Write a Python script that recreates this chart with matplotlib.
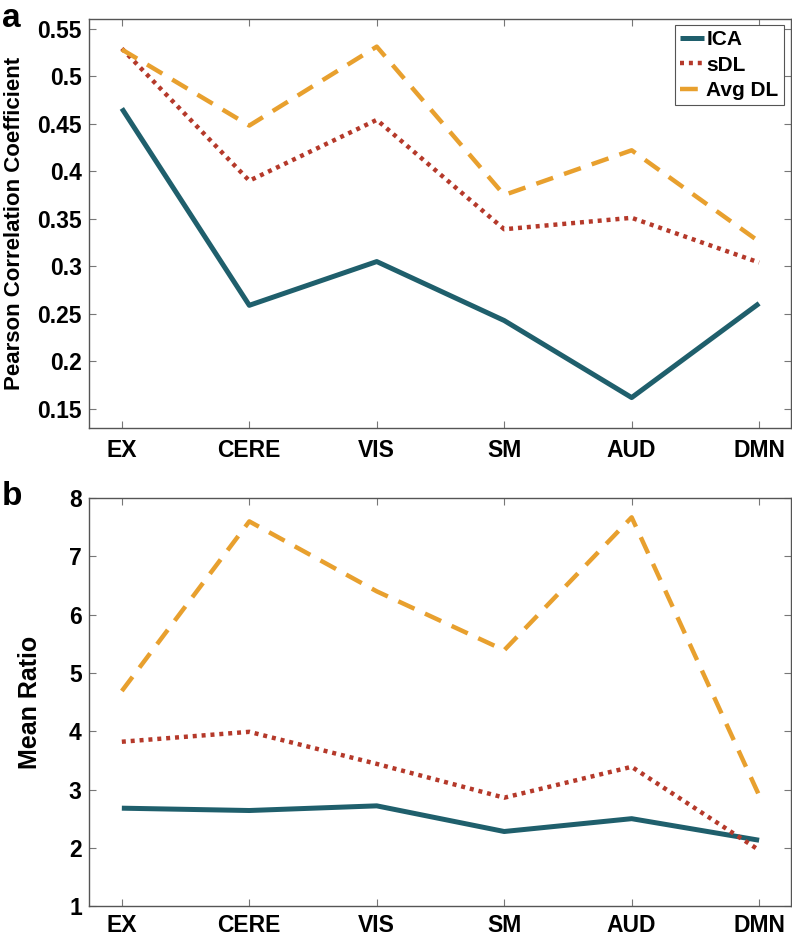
import matplotlib
matplotlib.use("Agg")
import matplotlib.pyplot as plt

categories = ["EX", "CERE", "VIS", "SM", "AUD", "DMN"]
series_names = ["ICA", "sDL", "Avg DL"]
pearson_ica = [0.466, 0.259, 0.305, 0.243, 0.162, 0.261]
pearson_sdl = [0.529, 0.390, 0.454, 0.339, 0.351, 0.304]
pearson_avgdl = [0.528, 0.448, 0.531, 0.375, 0.422, 0.326]
ratio_ica = [2.68, 2.64, 2.72, 2.28, 2.50, 2.13]
ratio_sdl = [3.82, 3.99, 3.44, 2.86, 3.39, 1.96]
ratio_avgdl = [4.69, 7.60, 6.40, 5.39, 7.67, 2.90]
yticks_a = [0.15, 0.2, 0.25, 0.3, 0.35, 0.4, 0.45, 0.5, 0.55]
yticklabels_a = ["0.15", "0.2", "0.25", "0.3", "0.35", "0.4", "0.45", "0.5", "0.55"]
yticks_b = [1, 2, 3, 4, 5, 6, 7, 8]

plt.rcParams['font.family'] = ['Liberation Sans', 'DejaVu Sans']
plt.rcParams['font.weight'] = 'bold'

TICK_FS = 16.5
LABEL_FS = 18

colors = ["#1f5f6c", "#b5392a", "#e8a02e"]
styles = [
    dict(linestyle='-', linewidth=3.6),
    dict(linestyle=(0, (0.9, 1.1)), linewidth=3.2),
    dict(linestyle=(0, (4.0, 2.6)), linewidth=3.2),
]

fig = plt.figure(figsize=(7.92, 9.38), dpi=100)
ax_a = fig.add_axes([0.112, 0.5437, 0.8867, 0.436])
ax_b = fig.add_axes([0.112, 0.034, 0.8867, 0.435])

x = list(range(1, len(categories) + 1))

def style_axes(ax, xpad):
    for s in ax.spines.values():
        s.set_color("#555555")
        s.set_linewidth(1.0)
    ax.tick_params(direction='in', top=True, right=True, length=5, width=0.8,
                   color="#777777", labelsize=TICK_FS, pad=5)
    ax.set_xticks(x)
    ax.set_xticklabels(categories, fontweight='bold', fontsize=TICK_FS)
    ax.tick_params(axis='x', pad=xpad)
    ax.set_xlim(0.74, 6.25)

for vals, c, st, n in zip([pearson_ica, pearson_sdl, pearson_avgdl], colors, styles, series_names):
    ax_a.plot(x, vals, color=c, label=n, solid_capstyle='butt', dash_capstyle='butt', **st)
style_axes(ax_a, 8)
ax_a.set_ylim(0.13, 0.56)
ax_a.set_yticks(yticks_a)
ax_a.set_yticklabels(yticklabels_a, fontweight='bold', fontsize=TICK_FS)
ax_a.set_ylabel("Pearson Correlation Coefficient", fontweight='bold', fontsize=16)
ax_a.yaxis.set_label_coords(-0.091, 0.5)
leg = ax_a.legend(loc='upper right', bbox_to_anchor=(0.99, 0.985), handlelength=1.15,
                  handletextpad=0.1, borderpad=0.25, labelspacing=0.3,
                  fancybox=False, framealpha=1, edgecolor="#555555",
                  prop=dict(weight='bold', size=15), borderaxespad=0.0)
leg.get_frame().set_linewidth(0.8)

for vals, c, st, n in zip([ratio_ica, ratio_sdl, ratio_avgdl], colors, styles, series_names):
    ax_b.plot(x, vals, color=c, label=n, solid_capstyle='butt', dash_capstyle='butt', **st)
style_axes(ax_b, 6)
ax_b.set_ylim(1, 8)
ax_b.set_yticks(yticks_b)
ax_b.set_yticklabels([str(v) for v in yticks_b], fontweight='bold', fontsize=TICK_FS)
ax_b.set_ylabel("Mean Ratio", fontweight='bold', fontsize=LABEL_FS)
ax_b.yaxis.set_label_coords(-0.066, 0.5)

fig.text(0.002, 0.997, "a", fontsize=24, fontweight='bold', va='top', ha='left')
fig.text(0.002, 0.487, "b", fontsize=24, fontweight='bold', va='top', ha='left')

fig.savefig("out.png", dpi=100)
